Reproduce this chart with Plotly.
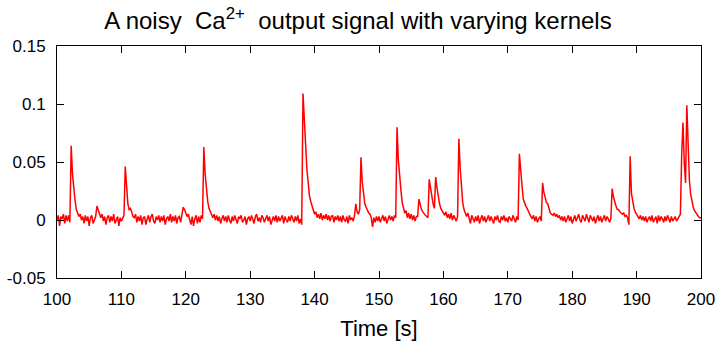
import numpy as np
import plotly.graph_objects as go

# Sampling: 100 s .. 200 s, step 0.2 s
t_start, t_end, t_step = 100.0, 200.0, 0.2

# Ca2+ signal in thousandths, 10 samples per 2 s row
ca_milli = [
    0, 4, -5, 3, 1, 5, -3, 4, -1, 4,            # 100
    -2, 64, 40, 27, 17, 9, 5, 3, 5, 0,          # 102
    3, -3, 4, -1, 3, -5, 2, 4, -3, 1,           # 104
    3, 12, 9, 6, 2, 5, -1, 3, -4, 2,            # 106
    4, -2, 3, -1, 5, -3, 1, 3, -5, 2,           # 108
    -1, 2, 4, 46, 28, 14, 9, 10, 7, 3,          # 110
    2, 5, -2, 3, -1, 4, -4, 2, 3, -4,           # 112
    1, 4, -2, 3, 5, -1, -3, 3, 0, 4,            # 114
    -2, 3, -1, 4, -4, 1, 3, -1, 5, -2,          # 116
    3, -1, 4, -3, 2, 3, -2, 4, 11, 9,           # 118
    5, 3, 5, -1, -4, 3, -5, 1, 4, -3,           # 120
    3, -2, 4, 1, 63, 40, 24, 16, 10, 7,         # 122
    5, 2, 5, 0, 4, -1, 3, -3, 1, 4,             # 124
    -1, 3, -2, 4, 0, -3, 3, -1, 4, 0,           # 126
    -3, 3, 1, 4, -2, 0, 3, -4, 1, 3,            # 128
    -1, 4, 1, -3, 3, 5, -1, 2, -2, 4,           # 130
    2, -2, 1, 4, -1, 3, -4, 1, 3, -1,           # 132
    4, -2, 3, -1, 1, 4, -3, 3, 0, -2,           # 134
    3, -1, 4, 0, -2, 3, -1, 4, -3, 1,           # 136
    -4, 109, 92, 66, 44, 30, 21, 16, 12, 8,     # 138
    5, 7, 2, 5, 1, 6, 0, 4, 1, 5,               # 140
    0, 4, -1, 3, 4, -2, 3, 0, 4, -1,            # 142
    3, -2, 4, 0, -1, 3, -3, 4, 0, 2,            # 144
    -1, 4, 14, 7, 5, 9, 54, 33, 22, 14,         # 146
    11, 8, 6, 5, 2, -6, 2, -2, 3, -1,           # 148
    3, -2, 1, 4, -1, 3, -3, 1, 4, 0,            # 150
    3, -1, 4, 2, 80, 52, 36, 26, 15, 9,         # 152
    6, 8, 2, 6, 1, 5, 0, 4, -1, 3,              # 154
    3, 18, 13, 9, 7, 5, 4, 3, 2, 35,            # 156
    27, 18, 14, 10, 37, 28, 20, 14, 10, 8,      # 158
    6, 4, 7, 2, 5, 1, 6, 0, 4, 2,               # 160
    -1, 3, 70, 45, 30, 15, 9, 6, 3, 6,          # 162
    1, -3, 4, 0, -2, 3, -1, 4, -3, 1,           # 164
    4, -1, 3, -2, 1, 4, -1, 3, 0, -3,           # 166
    3, 0, 4, -1, -2, 3, 0, 4, -1, 2,            # 168
    -2, 3, 1, -1, 4, 0, -2, 3, 0, 57,           # 170
    40, 30, 18, 14, 12, 10, 7, 5, 3, 1,         # 172
    4, -1, 3, -2, 1, 3, -1, 32, 24, 19,         # 174
    15, 14, 9, 6, 5, 4, 6, 3, 5, 2,             # 176
    4, 0, 3, -1, 3, -2, 1, 4, -1, 3,            # 178
    -3, 1, 4, -1, 3, 5, 0, -2, 4, 2,            # 180
    -1, 5, 2, -2, 4, 1, -1, 3, -3, 1,           # 182
    4, -1, 3, -2, 1, 4, -1, 3, 1, -2,           # 184
    1, 27, 20, 15, 12, 9, 9, 7, 6, 5,           # 186
    6, 3, 4, 2, -4, 55, 23, 14, 10, 7,          # 188
    5, 4, 1, 4, 0, 3, -1, 3, -2, 1,             # 190
    3, -1, 4, -2, 1, 3, -3, 4, -1, 3,           # 192
    1, -2, 3, -1, 4, 1, -2, 3, -1, 1,           # 194
    3, -1, 1, 4, 5, 56, 84, 50, 32, 99,         # 196
    60, 34, 22, 15, 11, 8, 6, 5, 3, 2,          # 198
    2,                                          # 200
]

x_ticks = [100, 110, 120, 130, 140, 150, 160, 170, 180, 190, 200]
y_ticks = [-0.05, 0, 0.05, 0.1, 0.15]
y_tick_labels = ["-0.05", "0", "0.05", "0.1", "0.15"]

time = np.round(t_start + t_step * np.arange(len(ca_milli)), 3)
ca = np.array(ca_milli) / 1000.0

font_family = "Liberation Sans, Arial, sans-serif"

fig = go.Figure()
fig.add_trace(go.Scatter(x=time, y=ca, mode="lines",
                         line=dict(color="#ff0000", width=1.5),
                         showlegend=False, hoverinfo="skip"))

fig.update_layout(
    width=716, height=341,
    margin=dict(l=57, r=15, t=46, b=63, autoexpand=False),
    paper_bgcolor="white", plot_bgcolor="white",
    font=dict(family=font_family, color="black", size=17),
    title=dict(text="A noisy  Ca<sup>2+</sup>  output signal with varying kernels",
               x=0.5, xanchor="center", xref="container",
               y=1 - 21 / 341, yanchor="middle", yref="container",
               font=dict(size=24, family=font_family, color="black")),
)
fig.update_xaxes(range=[100, 200], tickvals=x_ticks, automargin=False,
                 ticklabeloverflow="allow",
                 ticks="inside", ticklen=7, tickcolor="black", tickwidth=1,
                 showline=True, linecolor="black", linewidth=1, mirror="allticks",
                 showgrid=False, zeroline=False,
                 tickfont=dict(size=17), ticklabelstandoff=6,
                 title=dict(text="Time [s]", font=dict(size=22), standoff=12))
fig.update_yaxes(range=[-0.05, 0.15], tickvals=y_ticks, ticktext=y_tick_labels,
                 automargin=False, ticklabeloverflow="allow",
                 ticks="inside", ticklen=7, tickcolor="black", tickwidth=1,
                 showline=True, linecolor="black", linewidth=1, mirror="allticks",
                 showgrid=False, zeroline=False,
                 tickfont=dict(size=17), ticklabelstandoff=7)

fig.write_html("out.html")
